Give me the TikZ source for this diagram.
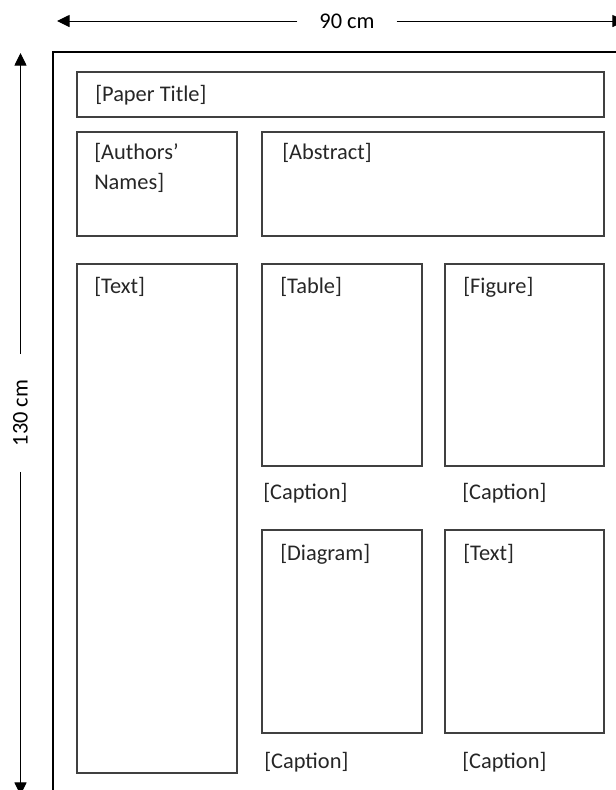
\documentclass[tikz,border=0pt]{standalone}
\usepackage{fontspec}
\setmainfont{Carlito}
\usepackage{tikz}
\usetikzlibrary{positioning}
\usetikzlibrary{arrows.meta}

\begin{document}
\begin{tikzpicture}[x=0.75pt,y=-0.75pt,
    panel/.style={draw=black!75, line width=0.8pt},
    outerline/.style={draw=black, line width=1.8pt},
    dimline/.style={draw=black, line width=0.75pt, -{Triangle[length=9.4pt,width=9pt]}},
    lbl/.style={inner sep=0pt, anchor=west, align=left, text=black!85,
      font=\fontsize{16.8}{22.5}\selectfont},
    dimlbl/.style={inner sep=0pt, text=black, font=\fontsize{16.8}{22.5}\selectfont}]
      \useasboundingbox (0,0) rectangle (615,790);
      % poster sheet
      \draw[outerline] (53,800) -- (53,52) -- (630,52);
      % width
      \node[dimlbl, minimum width=74pt, minimum height=15pt] (wlab) at (347,21) {90 cm};
      \coordinate (wleft) at (57,21);
      \coordinate (wright) at (625,21);
      \draw[dimline] (wlab.west) -- (wleft);
      \draw[dimline] (wlab.east) -- (wright);
      % height
      \node[dimlbl, rotate=90, minimum width=88pt, minimum height=15pt] (hlab) at (20.5,413) {130 cm};
      \coordinate (htop) at (20.5,53);
      \coordinate (hbot) at (20.5,795);
      \draw[dimline] (hlab.east) -- (htop);
      \draw[dimline] (hlab.west) -- (hbot);
      % panels
      \draw[panel] (77,72) rectangle (604,117);
      \draw[panel] (77,132) rectangle (237,236);
      \draw[panel] (262,132) rectangle (604,236);
      \draw[panel] (77,264) rectangle (237,773);
      \draw[panel] (262,264) rectangle (422,466);
      \draw[panel] (445,264) rectangle (604,466);
      \draw[panel] (262,530) rectangle (422,733);
      \draw[panel] (445,530) rectangle (604,733);
      % panel texts
      \node[lbl] (title) at (95,95) {[Paper Title]};
      \node[lbl] (authors) at (94,168) {[Authors’\\Names]};
      \node[lbl] (abstract) at (282,153) {[Abstract]};
      \node[lbl] (text) at (94,287) {[Text]};
      \node[lbl] (table) at (280,287) {[Table]};
      \node[lbl] (figure) at (463,287) {[Figure]};
      \node[lbl] (tabcap) at (263,493) {[Caption]};
      \node[lbl] (figcap) at (462,493) {[Caption]};
      \node[lbl] (diagram) at (280,554) {[Diagram]};
      \node[lbl] (text2) at (463,554) {[Text]};
      \node[lbl] (diacap) at (264,762) {[Caption]};
      \node[lbl] (text2cap) at (462,762) {[Caption]};
    \end{tikzpicture}
\end{document}
